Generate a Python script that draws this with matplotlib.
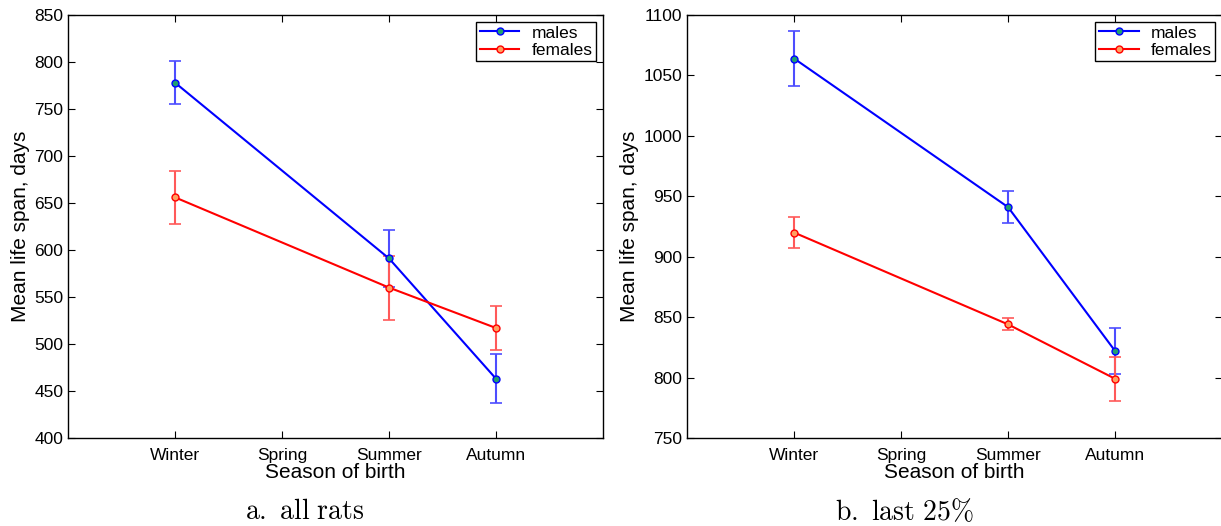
import numpy as np
import matplotlib.pyplot as plt

plt.rcParams['font.family'] = ['Liberation Sans', 'DejaVu Sans']
plt.rcParams['mathtext.fontset'] = 'cm'

seasons = ['Winter', 'Spring', 'Summer', 'Autumn']
x_pos = [1, 3, 4]  # no Spring data

# a. all rats
males_all = [778, 591, 463]
males_all_err = [23, 30, 26]
females_all = [656, 560, 517]
females_all_err = [28, 34, 23]

# b. last 25%
males_last = [1064, 941, 822]
males_last_err = [23, 13, 19]
females_last = [920, 844, 799]
females_last_err = [13, 5, 18]

fig = plt.figure(figsize=(12.21, 5.26), dpi=100)
ax1 = fig.add_axes([0.0557, 0.1673, 0.4382, 0.8042])
ax2 = fig.add_axes([0.5627, 0.1673, 0.4382, 0.8042])


def panel(ax, m, me, f, fe, ylim, yticks):
    ax.errorbar(x_pos, m, yerr=me, fmt='none', ecolor=(0.3, 0.3, 1.0), elinewidth=1.5, capsize=4, capthick=1.2)
    ax.errorbar(x_pos, f, yerr=fe, fmt='none', ecolor=(1.0, 0.35, 0.35), elinewidth=1.5, capsize=4, capthick=1.2)
    ax.plot(x_pos, m, '-o', color='#0000ff', lw=1.5, ms=5, mfc='#20a070', mec='#0000ff', label='males')
    ax.plot(x_pos, f, '-o', color='#ff0000', lw=1.5, ms=5, mfc='#ffa060', mec='#ff0000', label='females')
    ax.set_xlim(0, 5)
    ax.set_ylim(*ylim)
    ax.set_yticks(yticks)
    ax.set_xticks([1, 2, 3, 4])
    ax.set_xticklabels(seasons)
    ax.tick_params(direction='in', length=5, width=0.8, top=True, right=True, labelsize=12.5)
    ax.tick_params(axis='x', pad=7)
    for s in ax.spines.values():
        s.set_linewidth(1.0)
    ax.set_xlabel('Season of birth', fontsize=15, labelpad=0)
    ax.set_ylabel('Mean life span, days', fontsize=15, labelpad=3)
    leg = ax.legend(loc='upper right', fontsize=12.5, fancybox=False, framealpha=1,
                    edgecolor='black', borderaxespad=0.4, handlelength=2.3,
                    borderpad=0.2, labelspacing=0.12, handletextpad=0.7)
    leg.get_frame().set_linewidth(1.0)


panel(ax1, males_all, males_all_err, females_all, females_all_err,
      (400, 850), np.arange(400, 851, 50))
panel(ax2, males_last, males_last_err, females_last, females_last_err,
      (750, 1100), np.arange(750, 1101, 50))

fig.text(0.25, 0.027, r'$\mathrm{a.\ all\ rats}$', ha='center', va='center', fontsize=20)
fig.text(0.741, 0.027, r'$\mathrm{b.\ last\ 25\%}$', ha='center', va='center', fontsize=20)

fig.savefig('out.png', dpi=100)
